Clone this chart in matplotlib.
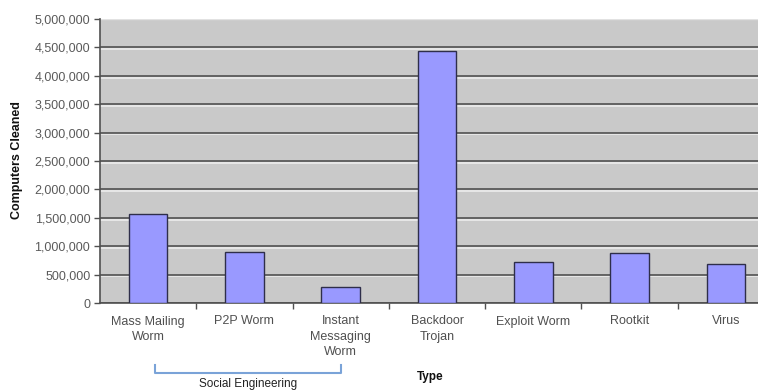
import numpy as np
import matplotlib.pyplot as plt
import matplotlib.patheffects as pe
from matplotlib.ticker import FuncFormatter, FixedLocator
from matplotlib.transforms import blended_transform_factory

plt.rcParams['font.family'] = ['Liberation Sans', 'DejaVu Sans']

categories = ["Mass Mailing\nWorm", "P2P Worm", "Instant\nMessaging\nWorm",
              "Backdoor\nTrojan", "Exploit Worm", "Rootkit", "Virus"]
computers_cleaned = [1570000, 890000, 290000, 4440000, 720000, 880000, 680000]
y_ticks = [0, 500000, 1000000, 1500000, 2000000, 2500000, 3000000,
           3500000, 4000000, 4500000, 5000000]
group_label = "Social Engineering"
group_span = (0, 2)

fig = plt.figure(figsize=(7.58, 3.91), dpi=100)
W, H = 758, 391
# plot area runs a little past the right edge of the figure
ax = fig.add_axes([100 / W, 1 - 303 / H, 674 / W, 284 / H])
ax.set_facecolor("#c9c9c9")

x = np.arange(len(categories))
ax.bar(x, computers_cleaned, width=0.4, color="#9999ff",
       edgecolor="#2e2e4a", linewidth=1.0, zorder=3)

ax.set_xlim(-0.5, len(categories) - 0.5)
ax.set_ylim(0, 5000000)
ax.set_yticks(y_ticks)
ax.yaxis.set_major_formatter(FuncFormatter(lambda v, p: f"{int(v):,}"))

# dark gridlines with a light edge just under them
ax.yaxis.grid(True, color="#505050", linewidth=1.2, zorder=1)
for gl in ax.get_ygridlines():
    gl.set_path_effects([pe.SimpleLineShadow(offset=(0, -1.3), shadow_color="#ececec", alpha=1.0),
                         pe.Normal()])
ax.get_ygridlines()[-1].set_visible(False)
ax.axhline(y_ticks[-1], color="#e2e2e2", linewidth=1.0, zorder=1)
ax.set_axisbelow(True)

ax.set_xticks(x)
ax.set_xticklabels(categories, color="#505050", fontsize=9, linespacing=1.35)
ax.tick_params(axis="x", which="major", length=0, pad=9)
ax.xaxis.set_minor_locator(FixedLocator(x[:-1] + 0.5))
ax.tick_params(axis="x", which="minor", length=4, width=1, color="#505050")
ax.tick_params(axis="y", length=4, width=1, color="#505050", labelcolor="#5a5a5a",
               labelsize=9, pad=3)

for s in ["top", "right"]:
    ax.spines[s].set_visible(False)
ax.spines["left"].set_color("#505050")
ax.spines["left"].set_linewidth(1.2)
ax.spines["bottom"].set_color("#505050")
ax.spines["bottom"].set_linewidth(1.2)

fig.text(17 / W, 1 - 160 / H, "Computers Cleaned", rotation=90, ha="center", va="center",
         fontsize=9, fontweight="bold", color="#111111")
fig.text(430 / W, 1 - 377 / H, "Type", ha="center", va="center",
         fontsize=8.5, fontweight="bold", color="#111111")

# bracket grouping the social engineering categories
tr = blended_transform_factory(ax.transData, fig.transFigure)
x0, x1 = group_span[0] + 0.07, group_span[1]
yb, yt = 1 - 373 / H, 1 - 365 / H
ax.plot([x0, x0, x1, x1], [yt, yb, yb, yt], transform=tr, color="#7aa3d8",
        linewidth=1.5, clip_on=False)
ax.text((x0 + x1) / 2, 1 - 384 / H, group_label, transform=tr, ha="center", va="center",
        fontsize=8.5, color="#222222")

fig.savefig("out.png", dpi=100)
